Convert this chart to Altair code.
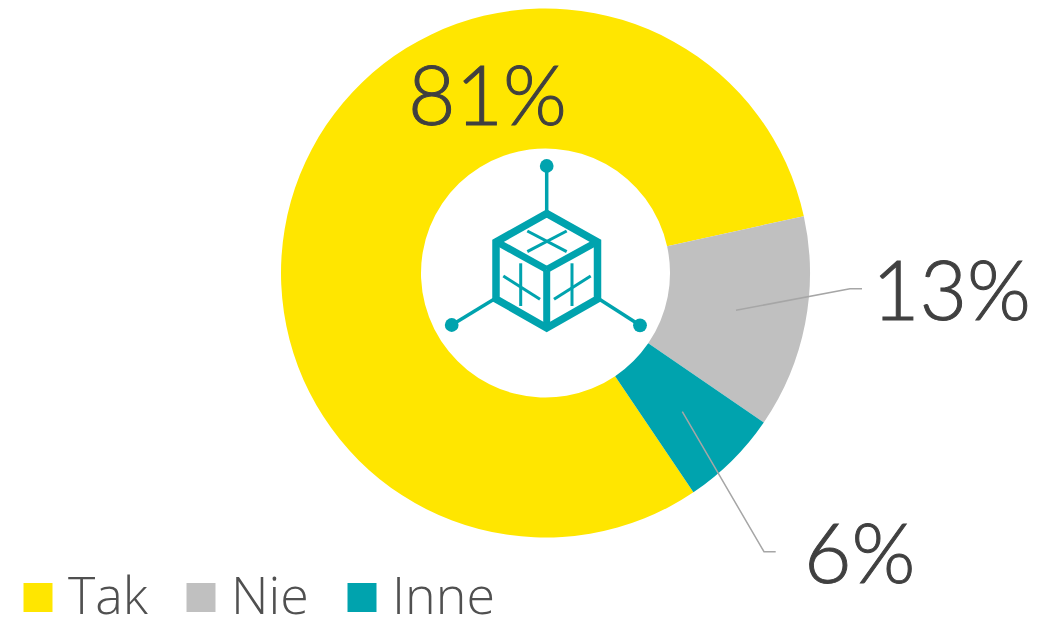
import altair as alt
import pandas as pd

categories = ["Tak", "Nie", "Inne"]
values = [81, 13, 6]
colors = ["#FFE600", "#C0C0C0", "#00A3AE"]
labels = ["81%", "13%", "6%"]

START = 2.548
TWO_PI = 6.28318
OX, OY = 8, 8  # page margin

df = pd.DataFrame({"cat": categories, "v": values, "i": [0, 1, 2]})

arc = alt.Chart(df).mark_arc(innerRadius=124.5, outerRadius=264.5).encode(
    x=alt.value(545.5 - OX),
    y=alt.value(273 - OY),
    theta=alt.Theta("v:Q", stack=True, scale=alt.Scale(domain=[0, 100], range=[START, START + TWO_PI])),
    order=alt.Order("i:Q"),
    color=alt.Color(
        "cat:N",
        scale=alt.Scale(domain=categories, range=colors),
        sort=categories,
        legend=alt.Legend(
            title=None, orient="none", legendX=4, legendY=563.5,
            direction="horizontal", columns=3, symbolType="square", symbolSize=841,
            symbolStrokeWidth=0, labelFontSize=52, labelFont="Open Sans", labelFontWeight=300,
            labelColor="#505050", labelOffset=4, columnPadding=27, padding=0,
            rowPadding=0, labelLimit=300,
        ),
    ),
)


def seg_layer(segs, width, color, cap="butt"):
    d = pd.DataFrame(segs, columns=["x", "y", "x2", "y2"])
    for c in d.columns:
        d[c] = d[c] - (OX if c.startswith("x") else OY)
    return alt.Chart(d).mark_rule(strokeWidth=width, color=color, strokeCap=cap).encode(
        x=alt.X("x:Q", scale=None), y=alt.Y("y:Q", scale=None),
        x2="x2:Q", y2="y2:Q",
    )


def poly_layer(pts, width, color):
    d = pd.DataFrame(pts, columns=["x", "y"])
    d["x"] -= OX
    d["y"] -= OY
    d["o"] = range(len(d))
    return alt.Chart(d).mark_line(strokeWidth=width, color=color, strokeJoin="miter", interpolate="linear").encode(
        x=alt.X("x:Q", scale=None), y=alt.Y("y:Q", scale=None), order="o:Q",
    )


TEAL = colors[2]
LEADER = "#A6A6A6"

leader1 = poly_layer([(736, 310.3), (850, 288.7), (862, 288.7)], 1.5, LEADER)
leader2 = poly_layer([(682.3, 411.7), (764, 551.7), (775.7, 551.7)], 1.5, LEADER)

stems = seg_layer([
    (546.7, 166, 546.7, 212),
    (451.7, 325, 496, 298),
    (640, 325.3, 597.5, 298),
], 3.5, TEAL)

hexagon = poly_layer([
    (546.7, 213.5), (597.5, 242), (597.5, 299), (546.7, 328),
    (496, 299), (496, 242), (546.7, 213.5), (597.5, 242),
], 7.5, TEAL)

spokes = seg_layer([
    (546.7, 269.5, 546.7, 328),
    (546.7, 269.5, 497, 242),
    (546.7, 269.5, 596.5, 242),
], 7, TEAL)

crosses = seg_layer([
    (527.3, 231, 566.7, 251.7),
    (566.7, 231, 527.3, 251.7),
    (520.7, 263.3, 520.7, 306),
    (503.3, 276, 540, 299.3),
    (572, 263.3, 572, 306),
    (590.7, 276, 554, 299.3),
], 3, TEAL)

dots_df = pd.DataFrame({"x": [546.7 - OX, 451.7 - OX, 640 - OX], "y": [166 - OY, 325 - OY, 325.3 - OY]})
dots = alt.Chart(dots_df).mark_circle(size=190, color=TEAL, opacity=1).encode(
    x=alt.X("x:Q", scale=None), y=alt.Y("y:Q", scale=None),
)


def label_layer(text, px, py):
    return alt.Chart(pd.DataFrame({"t": [text]})).mark_text(
        font="Lato", fontWeight=300, fontSize=82, color="#404040",
        stroke="#404040", strokeWidth=1,
        align="left", baseline="alphabetic",
    ).encode(x=alt.value(px - OX), y=alt.value(py - OY), text="t:N")


chart = alt.layer(
    arc, leader1, leader2, stems, hexagon, spokes, crosses, dots,
    label_layer(labels[0], 408, 125),
    label_layer(labels[1], 872, 320),
    label_layer(labels[2], 804, 583),
).properties(
    width=1028, height=611, padding=0, autosize=alt.AutoSizeParams(type="none"),
    background="white",
).configure_view(stroke=None)

chart.save("out.html", embed_options={"renderer": "svg", "actions": False})
